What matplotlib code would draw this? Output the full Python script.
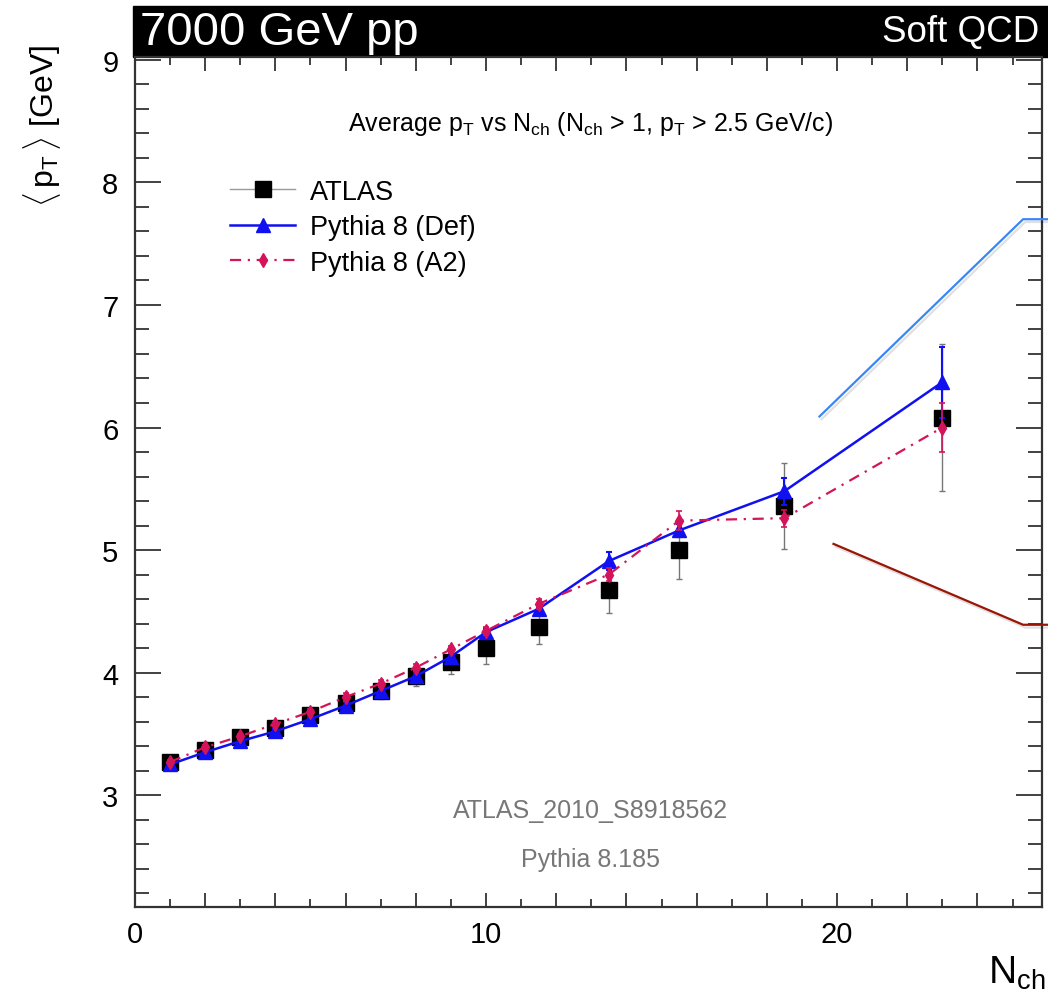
import matplotlib
matplotlib.use("Agg")
import matplotlib.pyplot as plt
from matplotlib.lines import Line2D
from matplotlib.patches import Rectangle
from matplotlib.ticker import MultipleLocator, FuncFormatter
import matplotlib.patheffects as pe

plt.rcParams['font.family'] = ['Liberation Sans', 'DejaVu Sans']
plt.rcParams['mathtext.fontset'] = 'custom'
plt.rcParams['mathtext.rm'] = 'Liberation Sans'
plt.rcParams['mathtext.it'] = 'Liberation Sans:italic'
plt.rcParams['mathtext.bf'] = 'Liberation Sans:bold'

# data
nch = [1, 2, 3, 4, 5, 6, 7, 8, 9, 10, 11.5, 13.5, 15.5, 18.5, 23]
atlas = [3.27, 3.37, 3.47, 3.55, 3.65, 3.75, 3.85, 3.97, 4.09, 4.20, 4.37, 4.67, 5.00, 5.36, 6.08]
atlas_err = [0.04, 0.06, 0.04, 0.05, 0.05, 0.06, 0.07, 0.08, 0.10, 0.13, 0.14, 0.18, 0.24, 0.35, 0.60]
py_def = [3.25, 3.35, 3.44, 3.52, 3.62, 3.73, 3.85, 3.97, 4.13, 4.33, 4.52, 4.91, 5.16, 5.48, 6.37]
py_def_err = [0.02, 0.02, 0.02, 0.02, 0.02, 0.03, 0.03, 0.03, 0.03, 0.03, 0.04, 0.07, 0.05, 0.11, 0.29]
py_a2 = [3.27, 3.39, 3.48, 3.58, 3.68, 3.80, 3.91, 4.04, 4.19, 4.34, 4.56, 4.80, 5.24, 5.26, 6.00]
py_a2_err = [0.02, 0.02, 0.02, 0.02, 0.02, 0.03, 0.03, 0.03, 0.03, 0.03, 0.04, 0.05, 0.08, 0.07, 0.20]

# callout lines that run off the right edge
callout_blue_x = [19.5, 25.3, 26.3]
callout_blue_y = [6.09, 7.70, 7.70]
callout_red_x = [19.9, 25.3, 26.3]
callout_red_y = [5.05, 4.39, 4.39]

fig = plt.figure(figsize=(10.48, 9.95), dpi=100)
ax = fig.add_axes([0.1288, 0.0874, 0.8655, 0.8543])

blue = '#1010f0'
red = '#d4145a'
a2_dash = (0, (5, 3, 1, 3))

ax.errorbar(nch, atlas, yerr=atlas_err, fmt='s', color='black', ms=11,
            ecolor='#777777', elinewidth=1, capsize=2.5, capthick=1, zorder=3)
ax.errorbar(nch, py_def, yerr=py_def_err, fmt='-^', color=blue, ms=10, lw=1.8,
            elinewidth=1.5, capsize=2.5, capthick=1.5, zorder=4)
ax.errorbar(nch, py_a2, yerr=py_a2_err, fmt='d', ls=a2_dash, color=red,
            ms=7.5, lw=1.6, elinewidth=1.2, capsize=2.5, capthick=1.2, zorder=5)

shadow = [pe.SimpleLineShadow(offset=(1.5, -2), alpha=0.12), pe.Normal()]
ax.plot(callout_blue_x, callout_blue_y, color='#3b86f5', lw=1.6, clip_on=False,
        path_effects=shadow, zorder=6)
ax.plot(callout_red_x, callout_red_y, color='#9a1505', lw=1.6, clip_on=False,
        path_effects=shadow, zorder=6)

ax.set_xlim(0, 25.84)
ax.set_ylim(2.086, 9.024)

ax.xaxis.set_major_locator(MultipleLocator(2))
ax.xaxis.set_minor_locator(MultipleLocator(1))
ax.xaxis.set_major_formatter(FuncFormatter(lambda v, p: '%d' % v if round(v) % 10 == 0 else ''))
ax.yaxis.set_major_locator(MultipleLocator(1))
ax.yaxis.set_minor_locator(MultipleLocator(0.2))

ax.tick_params(axis='both', which='both', direction='in', top=True, right=True,
               color='#333333', width=1.3, labelsize=21)
ax.tick_params(axis='x', which='major', length=10, pad=9)
ax.tick_params(axis='x', which='minor', length=5.5)
ax.tick_params(axis='y', which='major', length=19, pad=12)
ax.tick_params(axis='y', which='minor', length=10)
for s in ax.spines.values():
    s.set_color('#333333')
    s.set_linewidth(1.6)

# header band
fig.add_artist(Rectangle((133 / 1048, 1 - 58 / 995), 1 - 133 / 1048, 51 / 995,
                         transform=fig.transFigure, color='black', zorder=0))
fig.text(0.1336, 0.967, '7000 GeV pp', color='white', fontsize=34, va='center', ha='left')
fig.text(0.992, 0.967, 'Soft QCD', color='white', fontsize=26.5, va='center', ha='right')

fig.text(0.04, 0.955, r'$\langle\,\mathrm{p}_\mathrm{T}\,\rangle$ [GeV]', rotation=90,
         fontsize=23, ha='center', va='top')
fig.text(0.998, 0.003, r'N$_{\mathrm{ch}}$', fontsize=28, ha='right', va='bottom')

ax.text(0.502, 0.922,
        r'Average $\mathrm{p}_\mathrm{T}$ vs $\mathrm{N}_\mathrm{ch}$ ($\mathrm{N}_\mathrm{ch}$ > 1, $\mathrm{p}_\mathrm{T}$ > 2.5 GeV/c)',
        transform=ax.transAxes, ha='center', va='center', fontsize=18)
ax.text(0.502, 0.114, 'ATLAS_2010_S8918562', transform=ax.transAxes, ha='center',
        va='center', fontsize=18, color='#777777')
ax.text(0.502, 0.056, 'Pythia 8.185', transform=ax.transAxes, ha='center',
        va='center', fontsize=18, color='#777777')

handles = [
    Line2D([], [], color='#999999', lw=1, marker='s', ms=11, mfc='black', mec='black'),
    Line2D([], [], color=blue, lw=1.8, marker='^', ms=10),
    Line2D([], [], color=red, lw=1.6, ls=a2_dash, marker='d', ms=7.5),
]
labels = ['ATLAS', 'Pythia 8 (Def)', 'Pythia 8 (A2)']
ax.legend(handles, labels, loc='upper left', bbox_to_anchor=(0.105, 0.857),
          frameon=False, fontsize=19.5, handlelength=2.4, handletextpad=0.55,
          labelspacing=0.35, borderpad=0, borderaxespad=0)

fig.savefig('out.png', dpi=100)
